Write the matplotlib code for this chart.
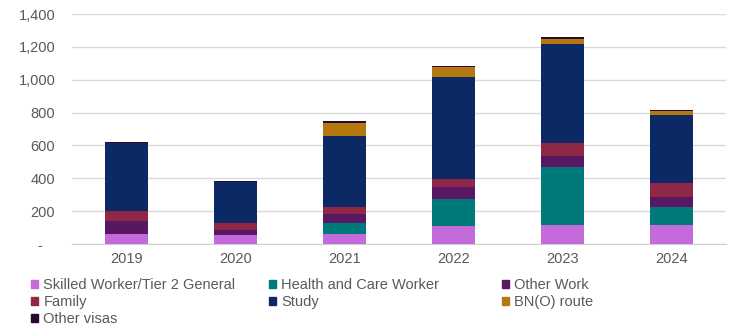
import numpy as np
import matplotlib
matplotlib.use("Agg")
import matplotlib.pyplot as plt
from matplotlib.patches import Patch

plt.rcParams['font.family'] = ['Liberation Sans', 'DejaVu Sans']

years = ['2019', '2020', '2021', '2022', '2023', '2024']
skilled = [59, 52, 61, 111, 116, 114]
health = [0, 2, 65, 161, 351, 109]
other_work = [81, 30, 57, 77, 69, 61]
family = [63, 42, 44, 47, 81, 85]
study = [413, 254, 432, 622, 600, 416]
bno = [0, 0, 80, 57, 33, 26]
other_visas = [3, 3, 10, 10, 10, 6]

names = ['Skilled Worker/Tier 2 General', 'Health and Care Worker', 'Other Work',
         'Family', 'Study', 'BN(O) route', 'Other visas']
series = [skilled, health, other_work, family, study, bno, other_visas]
colors = ['#C36BDB', '#00797A', '#571763', '#8E2846', '#0B2964', '#B5780E', '#2A0B30']

fig = plt.figure(figsize=(7.44, 3.26), dpi=100)
ax = fig.add_axes([72/744, 1-244/326, 654/744, 230/326])

x = np.arange(len(years))
bottom = np.zeros(len(years))
for vals, c in zip(series, colors):
    ax.bar(x, vals, 0.4, bottom=bottom, color=c, zorder=3)
    bottom += np.array(vals)

ax.set_xlim(-0.5, 5.5)
ax.set_ylim(0, 1400)
ax.set_yticks(range(0, 1401, 200))
ax.set_yticklabels(['-   '] + [f'{v:,}' for v in range(200, 1401, 200)])
ax.set_xticks(x)
ax.set_xticklabels(years)
ax.tick_params(length=0, labelsize=10.5, labelcolor='#595959')
ax.tick_params(axis='y', pad=12)
ax.tick_params(axis='x', pad=6)
ax.grid(axis='y', color='#d9d9d9', linewidth=1, zorder=0)
for s in ['top', 'right', 'left']:
    ax.spines[s].set_visible(False)
ax.spines['bottom'].set_color('#d0d0d0')

cols = [[0, 3, 6], [1, 4], [2, 5]]
xpos = [31, 269, 502]
for idx, xp in zip(cols, xpos):
    handles = [Patch(color=colors[i]) for i in idx]
    labels = [names[i] for i in idx]
    leg = fig.legend(handles, labels, loc='upper left',
                     bbox_to_anchor=(xp/744, 1-278/326), frameon=False,
                     fontsize=10.5, handlelength=0.5, handleheight=0.5,
                     handletextpad=0.35, labelspacing=0.2,
                     borderpad=0, borderaxespad=0)
    for t in leg.get_texts():
        t.set_color('#595959')

fig.savefig('out.png', dpi=100)
